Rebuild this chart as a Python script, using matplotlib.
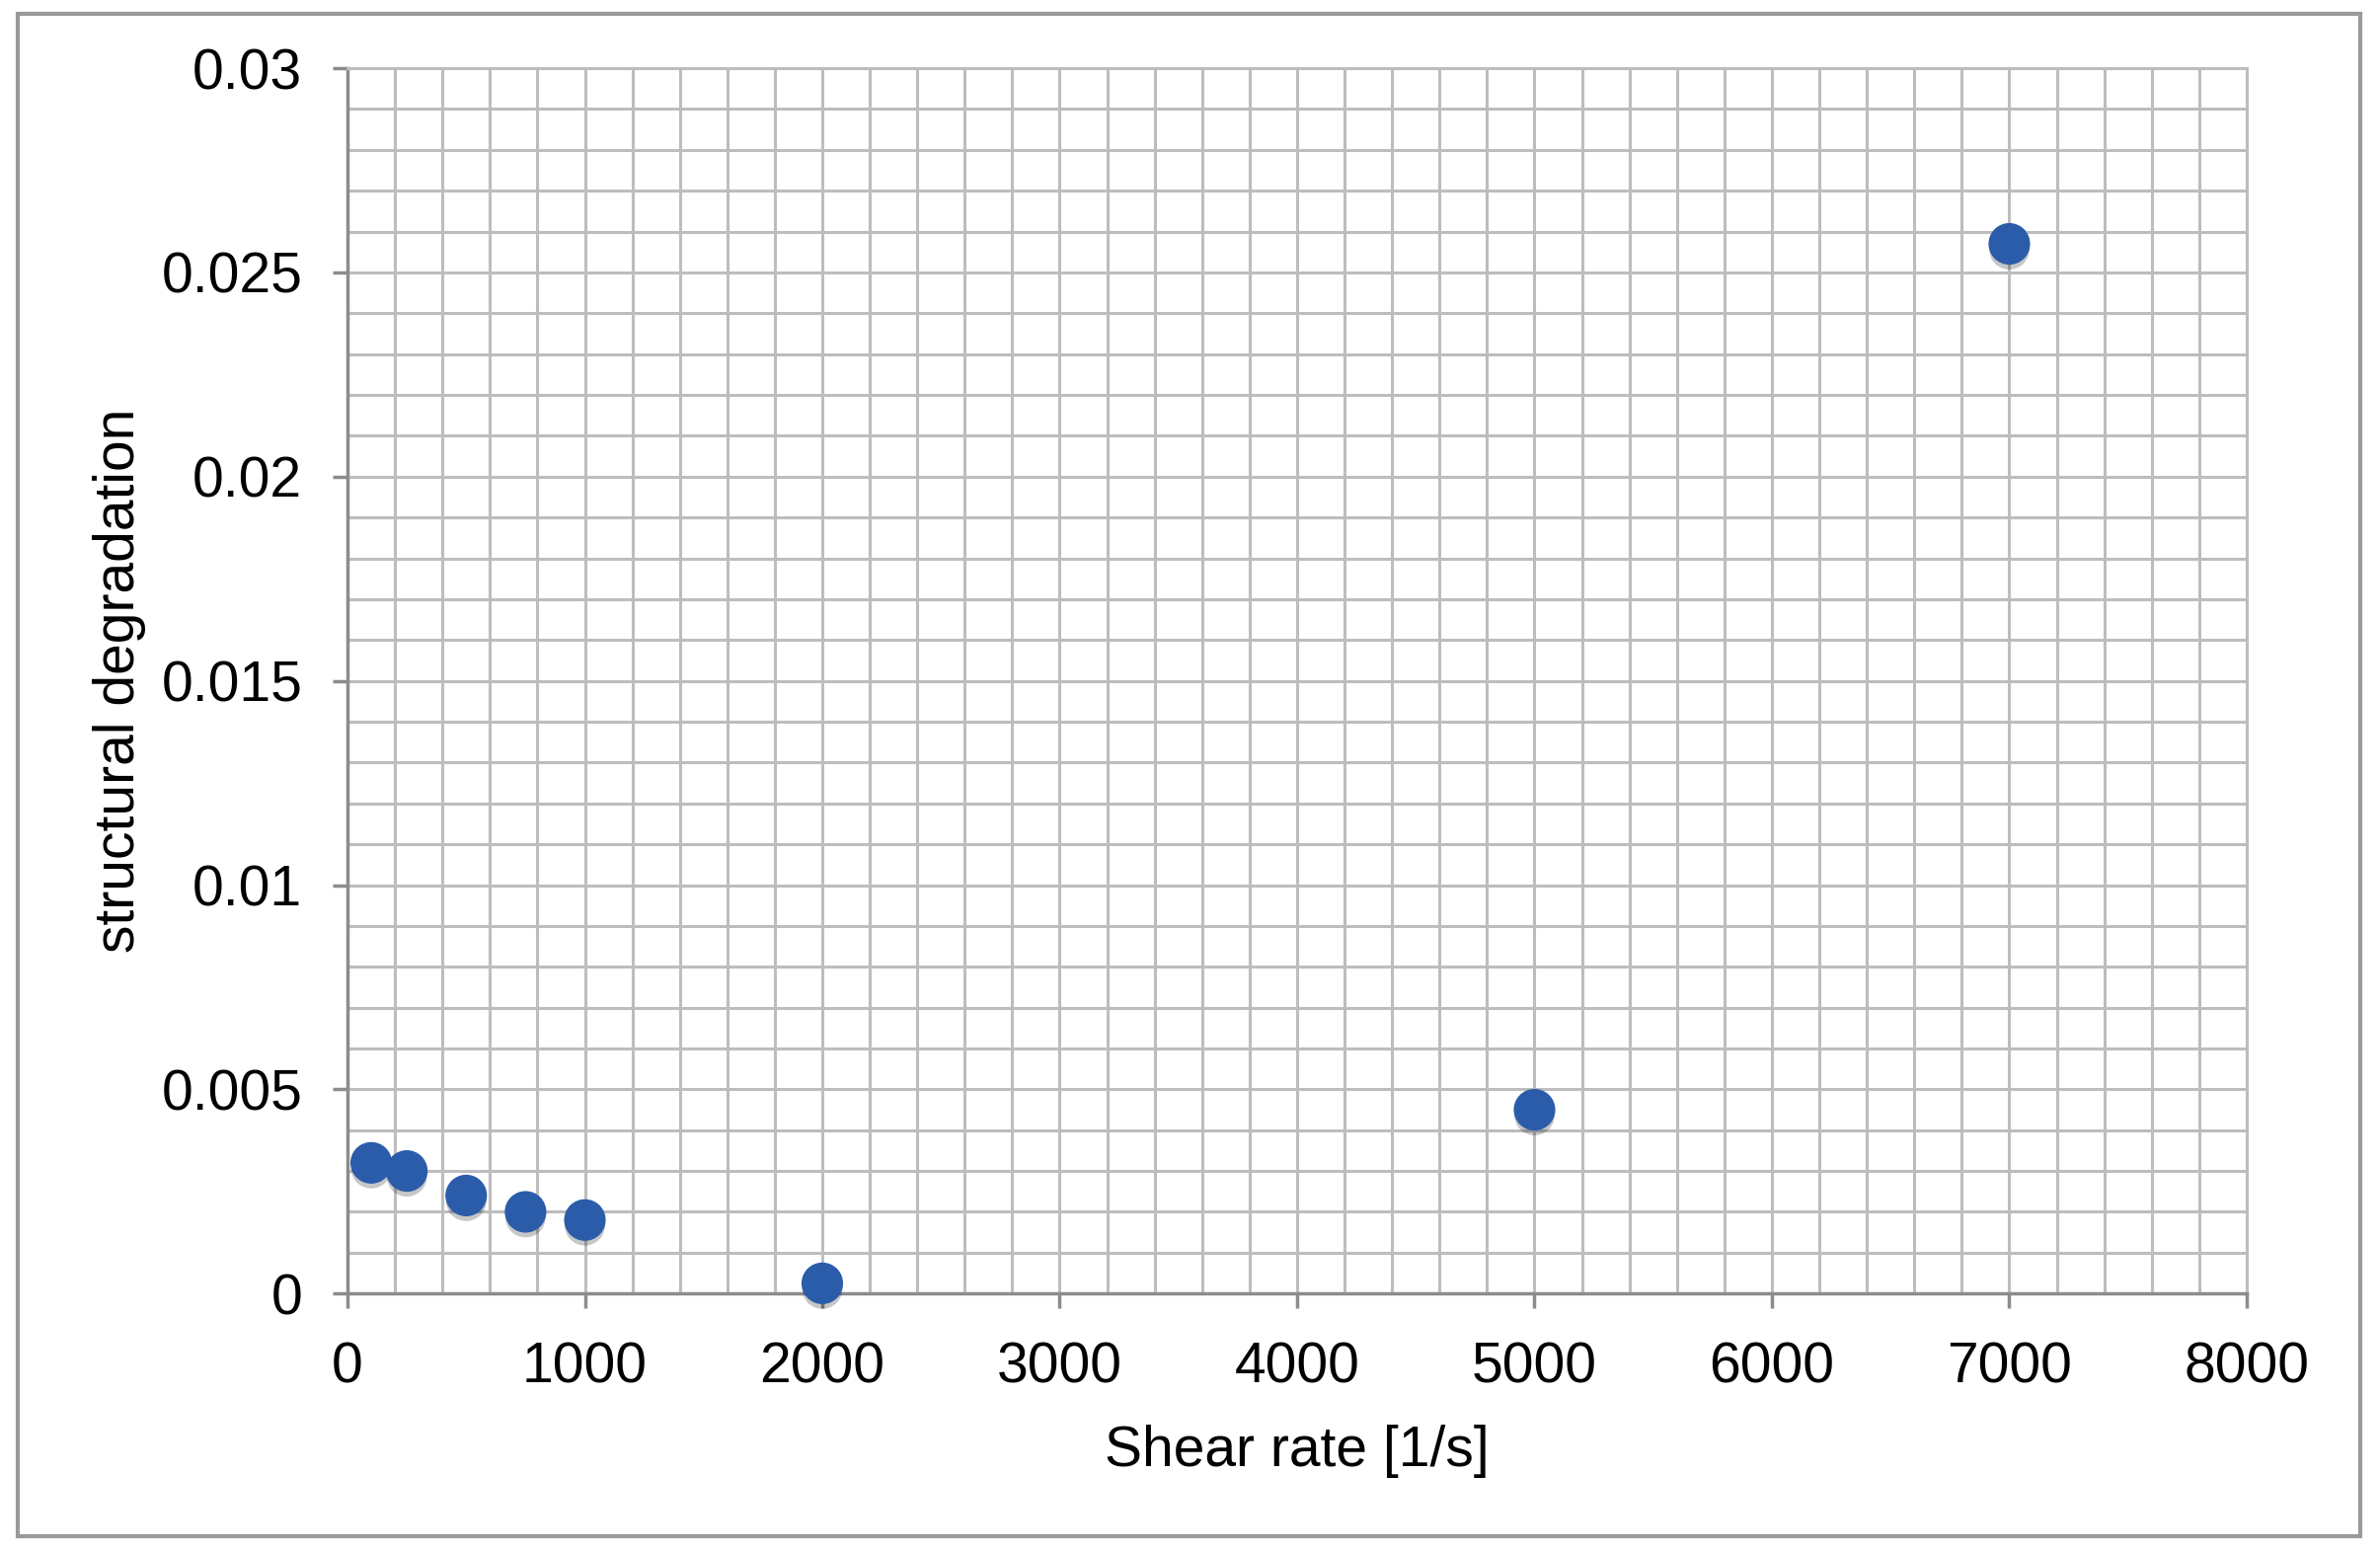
import numpy as np
import matplotlib
matplotlib.use("Agg")
import matplotlib.pyplot as plt
import matplotlib.patheffects as pe
from matplotlib.ticker import MultipleLocator, FuncFormatter
from matplotlib.patches import Rectangle

plt.rcParams['font.family'] = ['Liberation Sans', 'DejaVu Sans']

# data
shear_rate = [100, 250, 500, 750, 1000, 2000, 5000, 7000]
degradation = [0.0032, 0.0030, 0.0024, 0.0020, 0.0018, 0.00025, 0.0045, 0.0257]

fig = plt.figure(figsize=(24.11, 15.71), dpi=100)
ax = fig.add_axes([0.146, 0.166, 0.798, 0.790])

# outer frame round the whole chart
fig.patches.append(Rectangle((18 / 2411, 1 - 1556 / 1571), (2391 - 18) / 2411, (1556 - 14) / 1571,
                             transform=fig.transFigure, fill=False, edgecolor='#9a9a9a', linewidth=3))

ax.scatter(shear_rate, degradation, s=860, color='#2a5caa', zorder=5, clip_on=False,
           path_effects=[pe.SimplePatchShadow(offset=(0, -4), shadow_rgbFace='black', alpha=0.22), pe.Normal()])

ax.set_xlim(0, 8000)
ax.set_ylim(0, 0.03)
ax.xaxis.set_major_locator(MultipleLocator(1000))
ax.xaxis.set_minor_locator(MultipleLocator(200))
ax.yaxis.set_major_locator(MultipleLocator(0.005))
ax.yaxis.set_minor_locator(MultipleLocator(0.001))
ax.yaxis.set_major_formatter(FuncFormatter(lambda v, p: '%g' % round(v, 4)))

ax.grid(True, which='both', color='#bdbdbd', linewidth=2.2)
ax.set_axisbelow(True)

for side in ['top', 'right']:
    ax.spines[side].set_color('#bdbdbd')
    ax.spines[side].set_linewidth(2.2)
for side in ['left', 'bottom']:
    ax.spines[side].set_color('#8c8c8c')
    ax.spines[side].set_linewidth(2.5)

ax.tick_params(which='major', direction='out', length=11, width=2.5, color='#8c8c8c',
               labelsize=41, pad=22)
ax.tick_params(which='minor', length=0)
ax.tick_params(axis='x', pad=24)

ax.set_xlabel('Shear rate [1/s]', fontsize=41, labelpad=22)
ax.set_ylabel('structural degradation', fontsize=41, labelpad=11)

fig.savefig('out.png', dpi=100)
